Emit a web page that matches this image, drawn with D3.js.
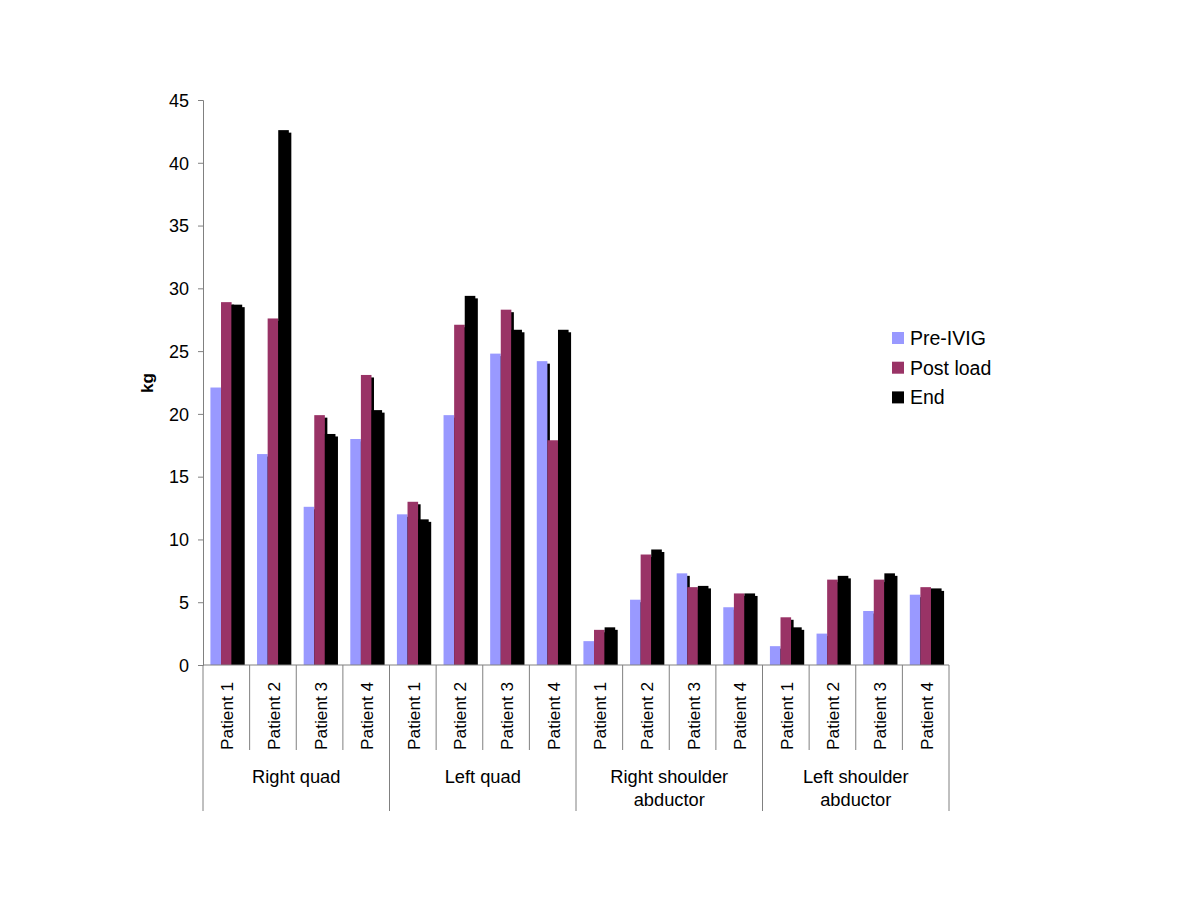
<!DOCTYPE html>
<html><head><meta charset="utf-8">
<script src="https://cdn.jsdelivr.net/npm/d3@7"></script>
<style>body{margin:0;background:#fff;} text{font-family:"Liberation Sans",Arial,sans-serif;}</style>
</head><body>
<svg id="c" width="1200" height="900"></svg>
<script>
const groups = ["Right quad","Left quad","Right shoulder\nabductor","Left shoulder\nabductor"];
const patients = ["Patient 1","Patient 2","Patient 3","Patient 4"];
const seriesNames = ["Pre-IVIG","Post load","End"];
const seriesColors = ["#9999FF","#993366","#000000"];
const preIVIG  = [22.1,16.8,12.6,18.0, 12.0,19.9,24.8,24.2, 1.9,5.2,7.3,4.6, 1.5,2.5,4.3,5.6];
const postLoad = [28.9,27.6,19.9,23.1, 13.0,27.1,28.3,17.9, 2.8,8.8,6.2,5.7, 3.8,6.8,6.8,6.2];
const endVals  = [28.7,42.6,18.4,20.3, 11.6,29.4,26.7,26.7, 3.0,9.2,6.3,5.7, 3.0,7.1,7.3,6.1];
const yTicks = [0,5,10,15,20,25,30,35,40,45];

const svg = d3.select("#c");
const L=203, R=949, T=100, B=665;
const cats = [];
groups.forEach((g,gi)=>patients.forEach((p,pi)=>cats.push({g:gi,p:p,key:gi+"-"+pi})));
const series = [preIVIG, postLoad, endVals];

const x = d3.scaleBand().domain(cats.map(c=>c.key)).range([L,R]).padding(0);
const xs = d3.scaleBand().domain(seriesNames).range([0,x.bandwidth()]).paddingInner(0).paddingOuter(0.7);
const y = d3.scaleLinear().domain([0,45]).range([B,T]);

// bars with shadow
const off = 2.5;
cats.forEach((c,i)=>{
  series.forEach((s,si)=>{
    const bx = x(c.key)+xs(seriesNames[si]);
    const v = s[i];
    svg.append("rect").attr("x",bx+off).attr("y",y(v)+off).attr("width",xs.bandwidth())
      .attr("height",Math.max(0,B-y(v)-off)).attr("fill","#000");
    svg.append("rect").attr("x",bx).attr("y",y(v)).attr("width",xs.bandwidth())
      .attr("height",B-y(v)).attr("fill",seriesColors[si]);
  });
});

// y axis
const gy = svg.append("g").attr("transform",`translate(${L},0)`)
  .call(d3.axisLeft(y).tickValues(yTicks).tickSize(5).tickPadding(6).tickFormat(d3.format("d")));
gy.select(".domain").attr("stroke","#808080");
gy.selectAll(".tick line").attr("stroke","#808080");
gy.selectAll(".tick text").attr("font-size","18px").attr("fill","#000").attr("dy","0.35em").attr("y",0).attr("x",-14);

svg.append("text").attr("transform",`translate(153,383) rotate(-90)`).attr("text-anchor","middle")
  .attr("font-size","17px").attr("font-weight","bold").text("kg");

// x axis line
svg.append("line").attr("x1",L).attr("x2",R).attr("y1",B).attr("y2",B).attr("stroke","#808080");

// separators
cats.forEach((c,i)=>{
  const xx = x(c.key);
  const isGroup = (i%4===0);
  svg.append("line").attr("x1",xx).attr("x2",xx).attr("y1",B).attr("y2",isGroup?811:750).attr("stroke","#808080");
});
svg.append("line").attr("x1",R).attr("x2",R).attr("y1",B).attr("y2",811).attr("stroke","#808080");

// patient labels
cats.forEach(c=>{
  const cx = x(c.key)+x.bandwidth()/2;
  svg.append("text").attr("transform",`translate(${cx+7},750) rotate(-90)`)
    .attr("font-size","17.3px").attr("fill","#000").text(c.p);
});

// group labels
groups.forEach((g,gi)=>{
  const x0 = x(gi+"-0"), x1 = x(gi+"-3")+x.bandwidth();
  const lines = g.split("\n");
  const t = svg.append("text").attr("text-anchor","middle").attr("font-size","18.3px").attr("fill","#000");
  lines.forEach((ln,li)=>t.append("tspan").attr("x",(x0+x1)/2).attr("y",783+li*23).text(ln));
});

// legend
seriesNames.forEach((n,i)=>{
  const ly = 338 + i*29.7;
  svg.append("rect").attr("x",892).attr("y",ly-6).attr("width",12).attr("height",12).attr("fill",seriesColors[i]);
  svg.append("text").attr("x",910).attr("y",ly).attr("dy","0.35em").attr("font-size","19.5px").attr("fill","#000").text(n);
});
</script>
</body></html>
